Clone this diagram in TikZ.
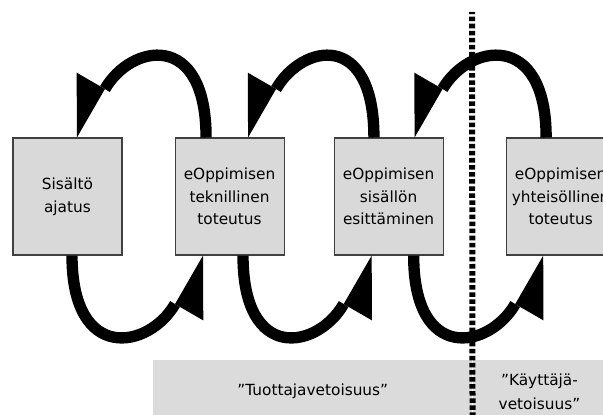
\documentclass[tikz,border=0pt]{standalone}
\usepackage{fontspec}
\setmainfont{DejaVu Sans}
\usetikzlibrary{arrows.meta, positioning}

\begin{document}
\begin{tikzpicture}[auto,node distance=39pt,
 stage/.style={rectangle,draw=black!75,fill=gray!30,line width=0.8pt,
   minimum width=81.75pt,minimum height=87.75pt,inner sep=0pt,align=center,
   font=\fontsize{11.5pt}{17pt}\selectfont},
 band/.style={rectangle,fill=gray!28,minimum height=48pt,inner sep=0pt,
   align=center,font=\fontsize{11.5pt}{18pt}\selectfont},
 swirl/.style={line width=8.5pt,
   -{Triangle[harpoon,swap,length=42pt,width=49pt,line width=0pt]}}]
  \useasboundingbox (0,0) rectangle (452.25pt,310.5pt);

  \node[stage] (1) at (50.6pt,163.1pt) {Sisältö\\ajatus};
  \node[stage] (2) [right=of 1] {eOppimisen\\teknillinen\\toteutus};
  \node[stage] (3) [right=36.75pt of 2] {eOppimisen\\sisällön\\esittäminen};
  \node[stage] (4) [right=46.5pt of 3] {eOppimisen\\yhteisöllinen\\toteutus};

  \node[band,minimum width=239.25pt,anchor=south west] (p) at (114.75pt,-7.5pt) {”Tuottajavetoisuus”};
  \node[band,minimum width=100pt,right=0pt of p] (k) {”Käyttäjä-\\vetoisuus”};

  \foreach \s/\t/\ds/\dt in {2/1/-17.6pt/7.1pt, 3/2/-11pt/13.9pt, 4/3/-10.9pt/19.5pt} {
   \draw[swirl] ([xshift=\ds]\s.north) to[out=90,in=60,out distance=81pt,in distance=81pt] ([xshift=\dt]\t.north);}
  \foreach \s/\t/\ds/\dt in {1/2/3.4pt/-19.9pt, 2/3/10.1pt/-12.7pt, 3/4/18.8pt/-13.1pt} {
   \draw[swirl] ([xshift=\ds]\s.south) to[out=-90,in=-120,out distance=81pt,in distance=81pt] ([xshift=\dt]\t.south);}

  \coordinate (top) at (354pt,301.5pt);
  \draw[line width=4.5pt,dash pattern=on 3.4pt off 1.9pt] (p.south east) -- (top);
\end{tikzpicture}
\end{document}
